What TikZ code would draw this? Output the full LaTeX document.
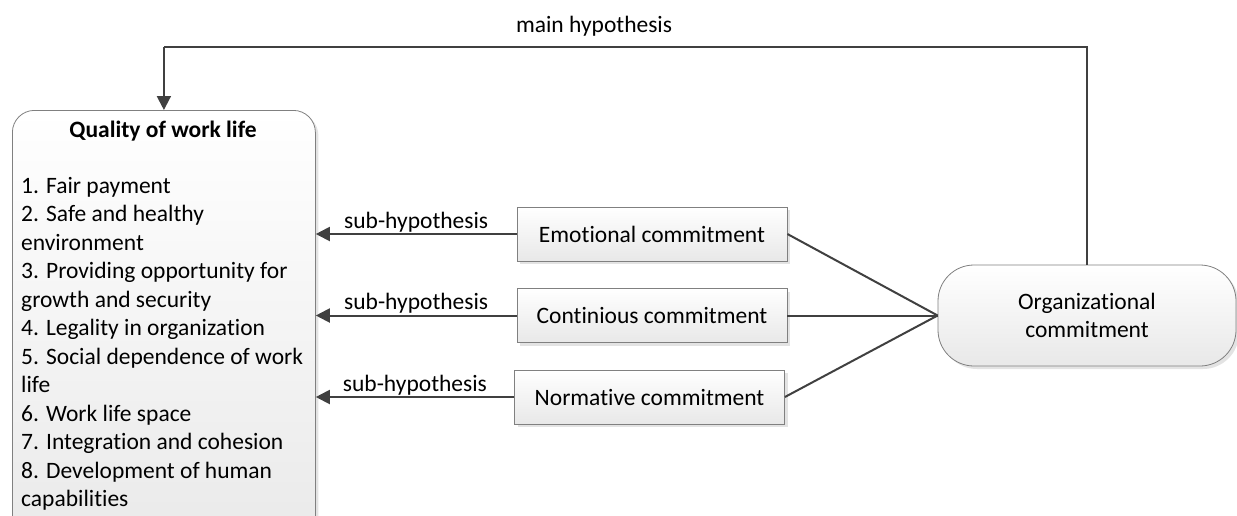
\documentclass[tikz,border=0pt]{standalone}
\usepackage{fontspec}
\setmainfont{Carlito}[Ligatures=NoCommon]
\usepackage{xcolor}
\usetikzlibrary{arrows.meta,shadows}
\definecolor{linegray}{rgb}{0.25, 0.25, 0.25}
\definecolor{boxgray}{rgb}{0.5, 0.5, 0.5}
\definecolor{shadowgray}{rgb}{0.78, 0.78, 0.78}

\begin{document}
\begin{tikzpicture}[x=1pt, y=-1pt,
    font=\fontsize{23.5}{28.5}\selectfont,
    box/.style={draw=boxgray, line width=0.8pt, top color=white, bottom color=black!9,
        drop shadow={shadow xshift=3pt, shadow yshift=-3pt, fill=shadowgray}},
    factor/.style={box, rectangle, minimum width=270pt, minimum height=54pt, inner sep=0pt},
    link/.style={draw=linegray, line width=2pt},
    arrow/.style={link, -{Triangle[length=14pt, width=14pt]}},
    hyp/.style={above, inner sep=1pt}
]
    \useasboundingbox (0,0) rectangle (1237,515);

    % Draw the dependent variable box with its list of dimensions
    \node[box, rounded corners=22pt, minimum width=303pt, minimum height=460pt,
        anchor=north west] (qwl) at (12,110) {};
    \node (qwltitle) at (163,131) {\textbf{Quality of work life}};
    \node[anchor=north west, align=left, inner sep=0pt] (qwllist) at (21,177) {%
        1. Fair payment\\
        2. Safe and healthy\\
        environment\\
        3. Providing opportunity for\\
        growth and security\\
        4. Legality in organization\\
        5. Social dependence of work\\
        life\\
        6. Work life space\\
        7. Integration and cohesion\\
        8. Development of human\\
        capabilities};

    % Draw the three kinds of commitment
    \node[factor] (emo) at (652,234) {Emotional commitment};
    \node[factor] (cont) at (652,315.5) {Continious commitment};
    \node[factor] (norm) at (649.5,397) {Normative commitment};

    % Draw the independent variable
    \node[box, rounded corners=36pt, minimum width=298pt, minimum height=101pt,
        align=center] (org) at (1087,315.5) {Organizational\\commitment};

    % Draw the sub-hypotheses from each commitment to the left box
    \foreach \src in {emo, cont, norm} {
        \draw[arrow] (\src.west) -- (\src.west -| qwl.east)
            node[hyp, midway] {sub-hypothesis};
        \draw[link] (\src.east) -- (org.west);
    }

    % Draw the main hypothesis over the top
    \draw[link] (org.north) |- (qwl.north |- 0,47)
        node[hyp, pos=0.767, yshift=9pt] {main hypothesis};
    \draw[arrow] (qwl.north |- 0,47) -- (qwl.north);
\end{tikzpicture}
\end{document}
